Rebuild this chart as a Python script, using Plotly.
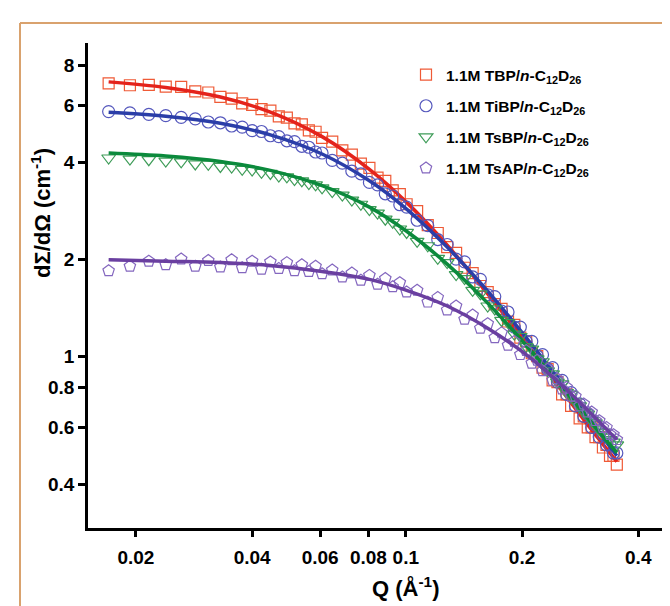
import plotly.graph_objects as go

# Q grid (1/A) shared by all four samples
q = [0.0170, 0.0193, 0.0216, 0.0239, 0.0262, 0.0285, 0.0308, 0.0331, 0.0354, 0.0377,
     0.0400, 0.0423, 0.0446, 0.0469, 0.0492, 0.0515, 0.0538, 0.0561, 0.0584, 0.0607,
     0.0645, 0.0685, 0.0725, 0.0765, 0.0805, 0.0845, 0.0885, 0.0925, 0.0965, 0.1005,
     0.107, 0.114, 0.121, 0.128, 0.135, 0.142, 0.149, 0.156, 0.163, 0.170,
     0.177, 0.184, 0.191, 0.198, 0.205, 0.212, 0.219, 0.226, 0.233, 0.240,
     0.247, 0.254, 0.261, 0.268, 0.275, 0.282, 0.289, 0.296, 0.303, 0.310,
     0.317, 0.324, 0.331, 0.338, 0.345, 0.352]

tbp = [7.02, 6.93, 6.95, 6.86, 6.85, 6.63, 6.58, 6.38, 6.30, 6.09,
       6.02, 5.84, 5.78, 5.55, 5.50, 5.28, 5.24, 5.02, 4.97, 4.76,
       4.63, 4.35, 4.22, 3.96, 3.84, 3.58, 3.50, 3.27, 3.18, 2.96,
       2.82, 2.55, 2.41, 2.18, 2.09, 1.88, 1.81, 1.65, 1.58, 1.45,
       1.40, 1.28, 1.25, 1.14, 1.11, 1.02, 1.00, 0.92, 0.91, 0.84,
       0.83, 0.76, 0.76, 0.70, 0.70, 0.64, 0.65, 0.60, 0.60, 0.56,
       0.56, 0.52, 0.53, 0.49, 0.49, 0.46]

tibp = [5.74, 5.69, 5.63, 5.58, 5.51, 5.45, 5.33, 5.30, 5.18, 5.14,
        5.01, 4.98, 4.83, 4.80, 4.66, 4.63, 4.48, 4.45, 4.30, 4.27,
        4.05, 3.97, 3.75, 3.68, 3.46, 3.40, 3.19, 3.14, 2.95, 2.90,
        2.64, 2.54, 2.30, 2.22, 2.00, 1.96, 1.76, 1.73, 1.55, 1.53,
        1.38, 1.37, 1.23, 1.23, 1.11, 1.11, 1.00, 1.01, 0.91, 0.92,
        0.83, 0.84, 0.76, 0.77, 0.70, 0.71, 0.65, 0.66, 0.60, 0.61,
        0.56, 0.57, 0.53, 0.53, 0.50, 0.50]

tsbp = [4.12, 4.09, 4.07, 4.03, 4.01, 3.95, 3.94, 3.88, 3.86, 3.80,
        3.78, 3.72, 3.69, 3.62, 3.60, 3.53, 3.50, 3.43, 3.40, 3.33,
        3.24, 3.16, 3.05, 2.96, 2.85, 2.78, 2.66, 2.60, 2.48, 2.42,
        2.27, 2.20, 2.01, 1.95, 1.79, 1.74, 1.60, 1.56, 1.43, 1.40,
        1.29, 1.27, 1.17, 1.15, 1.07, 1.05, 0.98, 0.96, 0.90, 0.88,
        0.83, 0.82, 0.77, 0.76, 0.72, 0.70, 0.67, 0.66, 0.63, 0.62,
        0.59, 0.58, 0.56, 0.55, 0.54, 0.53]

tsap = [1.84, 1.90, 1.97, 1.92, 2.00, 1.90, 1.98, 1.89, 1.99, 1.88,
        1.97, 1.86, 1.96, 1.87, 1.95, 1.84, 1.92, 1.83, 1.90, 1.80,
        1.85, 1.76, 1.81, 1.72, 1.78, 1.67, 1.74, 1.64, 1.69, 1.58,
        1.60, 1.47, 1.52, 1.39, 1.43, 1.30, 1.34, 1.22, 1.26, 1.14,
        1.18, 1.08, 1.11, 1.01, 1.04, 0.95, 0.97, 0.90, 0.91, 0.84,
        0.85, 0.79, 0.80, 0.75, 0.75, 0.70, 0.71, 0.67, 0.67, 0.63,
        0.63, 0.60, 0.60, 0.57, 0.57, 0.55]

# fitted curves
fit_q = [0.0170, 0.0239, 0.0331, 0.0446, 0.0607, 0.0805, 0.1005, 0.128, 0.163, 0.205, 0.254, 0.303, 0.352]
tbp_fit = [7.10, 6.82, 6.37, 5.72, 4.80, 3.80, 3.00, 2.21, 1.56, 1.10, 0.78, 0.59, 0.47]
tibp_fit = [5.71, 5.55, 5.28, 4.86, 4.24, 3.50, 2.86, 2.18, 1.59, 1.14, 0.82, 0.62, 0.49]
tsbp_fit = [4.27, 4.18, 4.02, 3.77, 3.38, 2.90, 2.44, 1.93, 1.46, 1.08, 0.80, 0.62, 0.50]
tsap_fit = [1.99, 1.97, 1.95, 1.91, 1.83, 1.73, 1.60, 1.43, 1.22, 1.01, 0.81, 0.66, 0.55]

x_ticks = [0.02, 0.04, 0.06, 0.08, 0.1, 0.2, 0.4]
y_ticks = [0.4, 0.6, 0.8, 1, 2, 4, 6, 8]

series = [
    ("1.1M TBP/<i>n</i>-C<sub>12</sub>D<sub>26</sub>", tbp, tbp_fit, "square-open", 11, "#ef5a36", "#e4231c"),
    ("1.1M TiBP/<i>n</i>-C<sub>12</sub>D<sub>26</sub>", tibp, tibp_fit, "circle-open", 12, "#5558bd", "#2b3ea8"),
    ("1.1M TsBP/<i>n</i>-C<sub>12</sub>D<sub>26</sub>", tsbp, tsbp_fit, "triangle-down-open", 12, "#3e9c58", "#0b8a3c"),
    ("1.1M TsAP/<i>n</i>-C<sub>12</sub>D<sub>26</sub>", tsap, tsap_fit, "pentagon-open", 12, "#8467bf", "#6a3fa0"),
]

fig = go.Figure()
for i, (name, vals, fit, sym, size, mcol, lcol) in enumerate(series):
    fig.add_trace(go.Scatter(
        x=q, y=vals, mode="markers", name=name, legendgroup=f"g{i}",
        marker=dict(symbol=sym, size=size, color=mcol, line=dict(width=1.2, color=mcol)),
    ))
    fig.add_trace(go.Scatter(
        x=fit_q, y=fit, mode="lines", showlegend=False,
        line=dict(color=lcol, width=3.5, shape="spline"),
    ))

axis_font = dict(family="Liberation Sans, Arial", size=19, color="black", weight="bold")

fig.update_xaxes(
    type="log", range=[-1.823, -0.295],
    tickvals=x_ticks, ticktext=[str(v) for v in x_ticks],
    showline=True, linecolor="black", linewidth=2.5,
    ticks="outside", ticklen=6, tickwidth=2.5, tickcolor="black",
    ticklabelstandoff=4,
    showgrid=False, zeroline=False, tickfont=axis_font,
)
fig.update_yaxes(
    type="log", range=[-0.534, 0.972],
    tickvals=y_ticks, ticktext=[str(v) for v in y_ticks],
    showline=True, linecolor="black", linewidth=2.5,
    ticks="outside", ticklen=7, tickwidth=2.5, tickcolor="black",
    showgrid=False, zeroline=False, tickfont=axis_font,
)

title_font = dict(family="Liberation Sans, Arial", size=22, color="black", weight="bold")
fig.add_annotation(
    text="Q (&#197;<sup>-1</sup>)", xref="paper", yref="paper",
    x=(397 - 80) / 590, y=(520 - 579) / 485, xanchor="center", yanchor="middle",
    showarrow=False, font=title_font,
)
fig.add_annotation(
    text="d&#931;/d&#937; (cm<sup>-1</sup>)", xref="paper", yref="paper",
    x=(33 - 80) / 590, y=(520 - 205) / 485, xanchor="center", yanchor="middle",
    showarrow=False, textangle=-90, font=title_font,
)

# tan frame of the figure panel
frame = dict(color="#d9a26e", width=2)
fig.add_shape(type="line", xref="paper", yref="paper",
              x0=(12 - 80) / 590, x1=1.0, y0=(520 - 15) / 485, y1=(520 - 15) / 485, line=frame)
fig.add_shape(type="line", xref="paper", yref="paper",
              x0=(12 - 80) / 590, x1=(12 - 80) / 590, y0=(520 - 15) / 485, y1=(520 - 606) / 485, line=frame)

fig.update_layout(
    width=670, height=606,
    margin=dict(l=80, r=0, t=35, b=86),
    plot_bgcolor="white", paper_bgcolor="white",
    showlegend=True,
    legend=dict(
        x=(398 - 80) / 590, y=(520 - 50) / 485, xanchor="left", yanchor="top",
        bgcolor="rgba(0,0,0,0)", traceorder="grouped", tracegroupgap=8,
        font=dict(family="Liberation Sans, Arial", size=15.5, color="black", weight="bold"),
    ),
)

fig.write_html("out.html")
